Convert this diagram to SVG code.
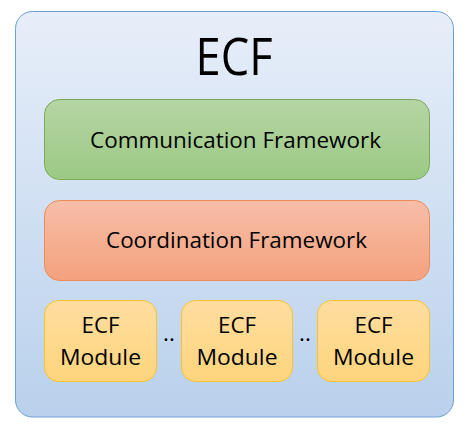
<svg xmlns="http://www.w3.org/2000/svg" width="468" height="433" viewBox="0 0 468 433">
<defs>
<linearGradient id="gOuter" x1="0" y1="0" x2="0" y2="1"><stop offset="0" stop-color="#e7eef9"/><stop offset="1" stop-color="#b9d1ec"/></linearGradient>
<linearGradient id="gGreen" x1="0" y1="0" x2="0" y2="1"><stop offset="0" stop-color="#b5d5a4"/><stop offset="1" stop-color="#9cc984"/></linearGradient>
<linearGradient id="gOrange" x1="0" y1="0" x2="0" y2="1"><stop offset="0" stop-color="#f7bea9"/><stop offset="1" stop-color="#f4a17d"/></linearGradient>
<linearGradient id="gYellow" x1="0" y1="0" x2="0" y2="1"><stop offset="0" stop-color="#fedda0"/><stop offset="1" stop-color="#fed57c"/></linearGradient>
<style>
text{font-family:"Open Sans","Noto Sans","Liberation Sans",sans-serif;fill:#000;text-anchor:middle}
.lbl{font-size:22px}
.mod{font-size:22.5px}
</style>
</defs>
<g id="ecf">
<rect x="15.5" y="11.5" width="438" height="405.5" rx="17" fill="url(#gOuter)" stroke="#6f9ed4" stroke-width="1"/>
<text x="234" y="75" font-size="52" textLength="77" lengthAdjust="spacingAndGlyphs">ECF</text>
</g>
<g id="communication">
<rect x="44.5" y="99.5" width="385" height="80" rx="15" fill="url(#gGreen)" stroke="#79aa58" stroke-width="1"/>
<text class="lbl" x="235.5" y="148" textLength="291" lengthAdjust="spacingAndGlyphs">Communication Framework</text>
</g>
<g id="coordination">
<rect x="44.5" y="200.5" width="385" height="80" rx="15" fill="url(#gOrange)" stroke="#ef8a55" stroke-width="1"/>
<text class="lbl" x="236.5" y="248" textLength="261" lengthAdjust="spacingAndGlyphs">Coordination Framework</text>
</g>
<g id="module1">
<rect x="44.5" y="300.5" width="112" height="81" rx="14" fill="url(#gYellow)" stroke="#f8c12f" stroke-width="1"/>
<text class="mod" x="100.5" y="333" textLength="38" lengthAdjust="spacingAndGlyphs">ECF</text>
<text class="mod" x="100.5" y="364.5" textLength="81" lengthAdjust="spacingAndGlyphs">Module</text>
</g>
<g id="module2">
<rect x="181.5" y="300.5" width="111" height="81" rx="14" fill="url(#gYellow)" stroke="#f8c12f" stroke-width="1"/>
<text class="mod" x="237" y="333" textLength="38" lengthAdjust="spacingAndGlyphs">ECF</text>
<text class="mod" x="237" y="364.5" textLength="81" lengthAdjust="spacingAndGlyphs">Module</text>
</g>
<g id="module3">
<rect x="317.5" y="300.5" width="112" height="81" rx="14" fill="url(#gYellow)" stroke="#f8c12f" stroke-width="1"/>
<text class="mod" x="373.5" y="333" textLength="38" lengthAdjust="spacingAndGlyphs">ECF</text>
<text class="mod" x="373.5" y="364.5" textLength="81" lengthAdjust="spacingAndGlyphs">Module</text>
</g>
<g id="connectors">
<text class="mod" x="169" y="341">..</text>
<text class="mod" x="305" y="341">..</text>
</g>
</svg>
